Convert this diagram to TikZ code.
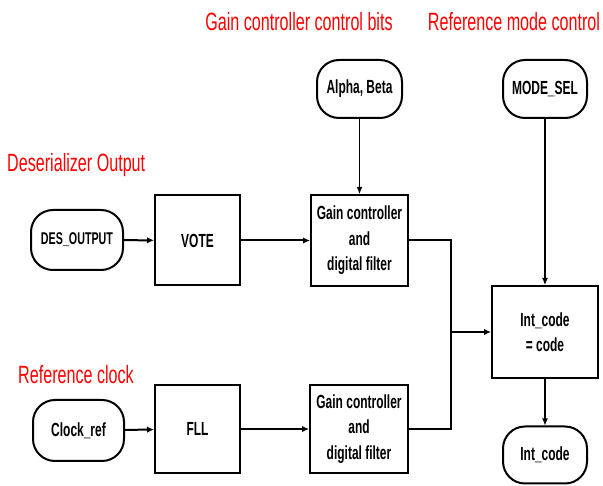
\documentclass[tikz,border=0pt]{standalone}
\usepackage{fontspec}
\setmainfont{Liberation Sans}[FakeStretch=0.63]
\newfontfamily\redfont{Liberation Sans}[FakeStretch=0.645]
\usetikzlibrary{arrows.meta}
\begin{document}
\begin{tikzpicture}[x=1pt,y=-1pt,
  blk/.style={draw, line width=2pt, align=center, font=\fontsize{19}{25.5}\selectfont\bfseries, inner sep=0pt},
  term/.style={blk, rounded corners=22pt},
  redlab/.style={text=red, font=\redfont\fontsize{25}{28}\selectfont, inner sep=0pt},
  conn/.style={line width=2pt, -{Latex[length=7pt,width=6.5pt]}},
  thinarr/.style={line width=1.1pt, -{Latex[length=7pt,width=6pt]}}]
\useasboundingbox (0,0) rectangle (603,486);
\fill[white] (0,0) rectangle (603,486);
% captions
\node[redlab] (c1) at (299,22) {Gain controller control bits};
\node[redlab] (c2) at (514,22) {Reference mode control};
\node[redlab, anchor=west] (c3) at (7,165) {Deserializer Output};
\node[redlab, anchor=west] (c4) at (18,375) {Reference clock};
% nodes
\node[term, minimum width=92pt, minimum height=60pt, font=\fontsize{17}{20}\selectfont\bfseries] (des) at (77,240) {DES\_OUTPUT};
\node[blk, minimum width=85pt, minimum height=90pt] (vote) at (197.5,240.5) {VOTE};
\node[blk, minimum width=97pt, minimum height=91pt] (g1) at (359.5,240.5) {Gain controller\\and\\digital filter};
\node[term, minimum width=85pt, minimum height=58pt] (ab) at (359.5,89) {Alpha, Beta};
\node[term, minimum width=84pt, minimum height=58pt] (ms) at (545,89) {MODE\_SEL};
\node[blk, minimum width=106pt, minimum height=92pt] (ic) at (545,332) {Int\_code\\= code};
\node[term, minimum width=84pt, minimum height=57pt] (io) at (545,455) {Int\_code};
\node[term, minimum width=91pt, minimum height=61pt] (clk) at (78.5,430.5) {Clock\_ref};
\node[blk, minimum width=85pt, minimum height=88pt] (fll) at (197.5,429) {FLL};
\node[blk, minimum width=98pt, minimum height=88pt] (g2) at (359,429) {Gain controller\\and\\digital filter};
\coordinate (j) at (451,332);
% connectors
\draw[conn] (des) -- (vote);
\draw[conn] (vote) -- (g1);
\draw[thinarr] (ab) -- (g1);
\draw[conn] (clk) -- (fll);
\draw[conn] (fll) -- (g2);
\draw[line width=2pt] (g1.east) -| (j);
\draw[line width=2pt] (g2.east) -| (j);
\draw[conn] (j) -- (ic.west);
\draw[thinarr] (ms) -- (ic);
\draw[thinarr] (ic) -- (io);
\end{tikzpicture}
\end{document}
